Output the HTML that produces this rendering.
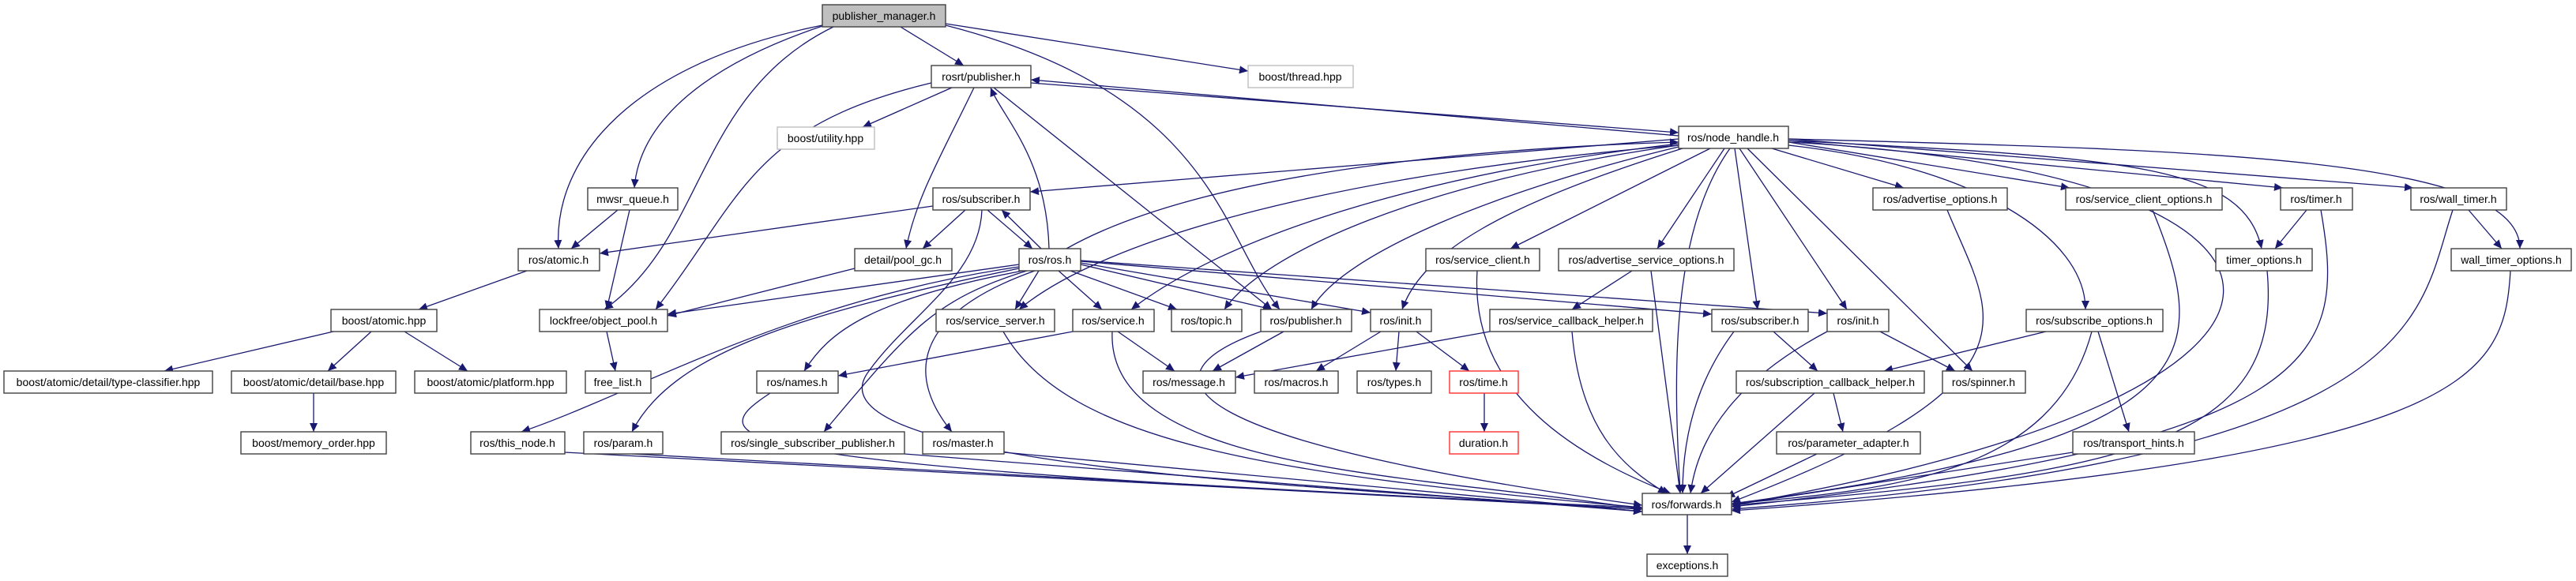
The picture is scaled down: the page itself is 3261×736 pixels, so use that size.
<!DOCTYPE html>
<html><head><meta charset="utf-8"><style>
html,body{margin:0;padding:0;background:#fff;}
svg{display:block;}
text{font-family:"Liberation Sans",sans-serif;font-size:14px;fill:#000;text-anchor:middle;}
.e{fill:none;stroke:#191970;stroke-width:1.3;marker-end:url(#a);}
.n{fill:#fff;stroke:#404040;stroke-width:1.4;}
</style></head><body>
<svg width="3261" height="736" viewBox="0 0 3261 736" xmlns="http://www.w3.org/2000/svg">
<defs><marker id="a" markerUnits="userSpaceOnUse" markerWidth="12" markerHeight="10" refX="11" refY="5" orient="auto"><path d="M0,0 L11,5 L0,10 Z" fill="#191970"/></marker></defs>
<g>
<path class="e" d="M1140,34 L1220,83"/>
<path class="e" d="M1197,30 L1580,90"/>
<path class="e" d="M1041,32 C800,80 700,200 707,315"/>
<path class="e" d="M1041,33 C900,80 810,150 803,238"/>
<path class="e" d="M1055,34 C880,120 895,300 765,392"/>
<path class="e" d="M1197,32 C1540,120 1545,300 1620,392"/>
<path class="e" d="M1205,111 L1092,161"/>
<path class="e" d="M1233,111 C1190,200 1160,250 1147,315"/>
<path class="e" d="M1179,105 C950,160 940,250 830,392"/>
<path class="e" d="M1305,105 L2125,168"/>
<path class="e" d="M2125,172 L1305,101"/>
<path class="e" d="M1258,111 L1610,392"/>
<path class="e" d="M1328,315 C1325,200 1270,150 1254,111"/>
<path class="e" d="M1181,261 L759,321"/>
<path class="e" d="M1222,266 L1168,315"/>
<path class="e" d="M1250,266 L1307,315"/>
<path class="e" d="M1318,315 L1268,266"/>
<path class="e" d="M1243,266 C1240,350 1150,400 1100,470 C1000,600 1800,620 2079,648"/>
<path class="e" d="M2125,176 L1304,243"/>
<path class="e" d="M1350,315 C1500,230 1800,190 2125,180"/>
<path class="e" d="M1290,335 L845,398"/>
<path class="e" d="M1290,338 C1000,380 800,500 660,547"/>
<path class="e" d="M1290,340 C1000,400 850,450 800,547"/>
<path class="e" d="M1295,343 C1100,380 1050,420 1018,470"/>
<path class="e" d="M1300,343 C1180,380 1150,420 1043,547"/>
<path class="e" d="M1310,343 C1150,400 1150,480 1205,547"/>
<path class="e" d="M1315,343 L1285,392"/>
<path class="e" d="M1340,343 L1395,392"/>
<path class="e" d="M1355,343 L1490,392"/>
<path class="e" d="M1368,335 L1610,392"/>
<path class="e" d="M1368,333 L1735,396"/>
<path class="e" d="M1368,331 L2167,398"/>
<path class="e" d="M1368,330 L2313,397"/>
<path class="e" d="M2125,184 C1700,220 1400,300 1290,392"/>
<path class="e" d="M2125,182 C1800,220 1550,300 1432,392"/>
<path class="e" d="M2125,184 C1800,230 1600,320 1550,392"/>
<path class="e" d="M2125,186 C1900,240 1700,320 1660,392"/>
<path class="e" d="M2130,188 C1900,260 1800,320 1775,392"/>
<path class="e" d="M2165,188 L1912,315"/>
<path class="e" d="M2183,188 L2098,315"/>
<path class="e" d="M2196,188 L2225,392"/>
<path class="e" d="M2202,188 L2338,392"/>
<path class="e" d="M2212,188 L2497,470"/>
<path class="e" d="M2190,188 C2110,300 2120,500 2127,625"/>
<path class="e" d="M2243,188 L2410,238"/>
<path class="e" d="M2264,180 L2620,238"/>
<path class="e" d="M2264,178 L2890,238"/>
<path class="e" d="M2264,176 L3055,238"/>
<path class="e" d="M2264,178 C2700,200 2840,210 2863,315"/>
<path class="e" d="M2264,176 C2800,190 3190,200 3190,315"/>
<path class="e" d="M2264,184 C2500,210 2640,300 2640,392"/>
<path class="e" d="M2264,180 C3000,220 3020,500 2192,640"/>
<path class="e" d="M1358,420 L1061,476"/>
<path class="e" d="M1415,420 L1487,470"/>
<path class="e" d="M1408,420 C1400,600 1800,600 2079,645"/>
<path class="e" d="M1625,420 L1535,470"/>
<path class="e" d="M1596,420 C1430,480 1500,560 2079,640"/>
<path class="e" d="M1270,420 C1350,560 1600,600 2079,643"/>
<path class="e" d="M1886,420 L1564,478"/>
<path class="e" d="M1990,420 C2000,540 2050,590 2110,625"/>
<path class="e" d="M1748,420 L1666,470"/>
<path class="e" d="M1771,420 L1767,470"/>
<path class="e" d="M1793,420 L1860,470"/>
<path class="e" d="M1879,498 L1879,547"/>
<path class="e" d="M2245,420 L2301,470"/>
<path class="e" d="M2195,420 C2150,480 2130,550 2130,625"/>
<path class="e" d="M2313,420 C2200,480 2150,550 2140,625"/>
<path class="e" d="M2380,420 L2475,470"/>
<path class="e" d="M2297,498 L2153,625"/>
<path class="e" d="M2321,498 L2333,547"/>
<path class="e" d="M2300,575 L2185,630"/>
<path class="e" d="M2590,420 L2385,470"/>
<path class="e" d="M2656,420 L2695,547"/>
<path class="e" d="M2648,420 C2600,600 2400,620 2192,638"/>
<path class="e" d="M2624,573 L2192,640"/>
<path class="e" d="M2465,266 C2520,400 2600,480 2192,636"/>
<path class="e" d="M2725,266 C2800,450 2800,560 2192,638"/>
<path class="e" d="M2920,266 L2880,315"/>
<path class="e" d="M2938,266 C2970,450 2950,560 2192,642"/>
<path class="e" d="M2870,343 C2890,560 2700,600 2192,640"/>
<path class="e" d="M3105,266 C3060,400 3080,580 2192,645"/>
<path class="e" d="M3125,266 L3167,315"/>
<path class="e" d="M3178,343 C3170,480 3130,580 2192,647"/>
<path class="e" d="M1870,343 C1860,500 2000,580 2115,625"/>
<path class="e" d="M2066,343 L1990,392"/>
<path class="e" d="M2090,343 L2127,625"/>
<path class="e" d="M2136,652 L2136,702"/>
<path class="e" d="M975,498 C880,560 900,590 2079,643"/>
<path class="e" d="M715,573 L2079,645"/>
<path class="e" d="M800,575 L2079,645"/>
<path class="e" d="M1145,575 L2079,648"/>
<path class="e" d="M1271,573 L2079,648"/>
<path class="e" d="M782,266 L723,315"/>
<path class="e" d="M797,266 L768,392"/>
<path class="e" d="M667,343 L530,392"/>
<path class="e" d="M422,420 L208,470"/>
<path class="e" d="M470,420 L415,470"/>
<path class="e" d="M512,420 L592,470"/>
<path class="e" d="M397,498 L397,547"/>
<path class="e" d="M768,420 L779,470"/>
<path class="e" d="M1082,340 L845,400"/>
</g>
<g>
<rect x="1041" y="6" width="156" height="28" fill="#bfbfbf" stroke="#404040" stroke-width="1.4"/><text x="1119" y="25">publisher_manager.h</text>
<rect class="n" x="1179" y="83" width="126" height="28"/><text x="1242" y="102">rosrt/publisher.h</text>
<rect x="1580" y="83" width="133" height="28" fill="#fff" stroke="#bfbfbf" stroke-width="1.4"/><text x="1646" y="102">boost/thread.hpp</text>
<rect x="984" y="161" width="123" height="28" fill="#fff" stroke="#bfbfbf" stroke-width="1.4"/><text x="1045" y="180">boost/utility.hpp</text>
<rect class="n" x="2125" y="160" width="139" height="28"/><text x="2194" y="179">ros/node_handle.h</text>
<rect class="n" x="744" y="238" width="114" height="28"/><text x="801" y="257">mwsr_queue.h</text>
<rect class="n" x="1181" y="238" width="123" height="28"/><text x="1242" y="257">ros/subscriber.h</text>
<rect class="n" x="2371" y="238" width="170" height="28"/><text x="2456" y="257">ros/advertise_options.h</text>
<rect class="n" x="2615" y="238" width="198" height="28"/><text x="2714" y="257">ros/service_client_options.h</text>
<rect class="n" x="2887" y="238" width="91" height="28"/><text x="2932" y="257">ros/timer.h</text>
<rect class="n" x="3052" y="238" width="121" height="28"/><text x="3112" y="257">ros/wall_timer.h</text>
<rect class="n" x="656" y="315" width="103" height="28"/><text x="707" y="334">ros/atomic.h</text>
<rect class="n" x="1082" y="315" width="123" height="28"/><text x="1143" y="334">detail/pool_gc.h</text>
<rect class="n" x="1290" y="315" width="78" height="28"/><text x="1329" y="334">ros/ros.h</text>
<rect class="n" x="1805" y="315" width="144" height="28"/><text x="1877" y="334">ros/service_client.h</text>
<rect class="n" x="1973" y="315" width="222" height="28"/><text x="2084" y="334">ros/advertise_service_options.h</text>
<rect class="n" x="2805" y="315" width="122" height="28"/><text x="2866" y="334">timer_options.h</text>
<rect class="n" x="3103" y="315" width="152" height="28"/><text x="3179" y="334">wall_timer_options.h</text>
<rect class="n" x="419" y="392" width="134" height="28"/><text x="486" y="411">boost/atomic.hpp</text>
<rect class="n" x="683" y="392" width="162" height="28"/><text x="764" y="411">lockfree/object_pool.h</text>
<rect class="n" x="1185" y="392" width="150" height="28"/><text x="1260" y="411">ros/service_server.h</text>
<rect class="n" x="1358" y="392" width="103" height="28"/><text x="1409" y="411">ros/service.h</text>
<rect class="n" x="1483" y="392" width="89" height="28"/><text x="1527" y="411">ros/topic.h</text>
<rect class="n" x="1596" y="392" width="115" height="28"/><text x="1653" y="411">ros/publisher.h</text>
<rect class="n" x="1735" y="392" width="77" height="28"/><text x="1773" y="411">ros/init.h</text>
<rect class="n" x="1886" y="392" width="206" height="28"/><text x="1989" y="411">ros/service_callback_helper.h</text>
<rect class="n" x="2167" y="392" width="122" height="28"/><text x="2228" y="411">ros/subscriber.h</text>
<rect class="n" x="2313" y="392" width="78" height="28"/><text x="2352" y="411">ros/init.h</text>
<rect class="n" x="2565" y="392" width="173" height="28"/><text x="2651" y="411">ros/subscribe_options.h</text>
<rect class="n" x="5" y="470" width="264" height="28"/><text x="137" y="489">boost/atomic/detail/type-classifier.hpp</text>
<rect class="n" x="293" y="470" width="208" height="28"/><text x="397" y="489">boost/atomic/detail/base.hpp</text>
<rect class="n" x="525" y="470" width="192" height="28"/><text x="621" y="489">boost/atomic/platform.hpp</text>
<rect class="n" x="741" y="470" width="83" height="28"/><text x="782" y="489">free_list.h</text>
<rect class="n" x="958" y="470" width="103" height="28"/><text x="1009" y="489">ros/names.h</text>
<rect class="n" x="1447" y="470" width="117" height="28"/><text x="1505" y="489">ros/message.h</text>
<rect class="n" x="1588" y="470" width="106" height="28"/><text x="1641" y="489">ros/macros.h</text>
<rect class="n" x="1718" y="470" width="94" height="28"/><text x="1765" y="489">ros/types.h</text>
<rect x="1835" y="470" width="87" height="28" fill="#fff" stroke="#ff3030" stroke-width="1.4"/><text x="1878" y="489">ros/time.h</text>
<rect class="n" x="2198" y="470" width="238" height="28"/><text x="2317" y="489">ros/subscription_callback_helper.h</text>
<rect class="n" x="2459" y="470" width="105" height="28"/><text x="2511" y="489">ros/spinner.h</text>
<rect class="n" x="305" y="547" width="184" height="28"/><text x="397" y="566">boost/memory_order.hpp</text>
<rect class="n" x="596" y="547" width="119" height="28"/><text x="655" y="566">ros/this_node.h</text>
<rect class="n" x="739" y="547" width="100" height="28"/><text x="789" y="566">ros/param.h</text>
<rect class="n" x="913" y="547" width="232" height="28"/><text x="1029" y="566">ros/single_subscriber_publisher.h</text>
<rect class="n" x="1168" y="547" width="103" height="28"/><text x="1219" y="566">ros/master.h</text>
<rect x="1835" y="547" width="87" height="28" fill="#fff" stroke="#ff3030" stroke-width="1.4"/><text x="1878" y="566">duration.h</text>
<rect class="n" x="2249" y="547" width="182" height="28"/><text x="2340" y="566">ros/parameter_adapter.h</text>
<rect class="n" x="2624" y="547" width="154" height="28"/><text x="2701" y="566">ros/transport_hints.h</text>
<rect class="n" x="2079" y="625" width="113" height="27"/><text x="2135" y="644">ros/forwards.h</text>
<rect class="n" x="2085" y="702" width="102" height="28"/><text x="2136" y="721">exceptions.h</text>
</g>
</svg>
</body></html>
